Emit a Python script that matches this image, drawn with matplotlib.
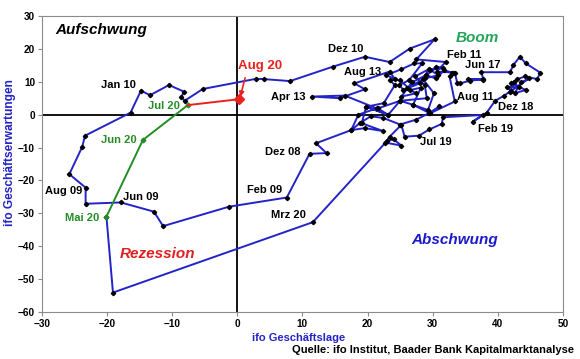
import matplotlib
matplotlib.use("Agg")
import matplotlib.pyplot as plt

plt.rcParams["font.family"] = ["Liberation Sans", "DejaVu Sans"]
plt.rcParams["font.weight"] = "bold"

# ifo Geschäftslage (x) und Geschäftserwartungen (y), monatlich 2008 - Mai 20
lage = [
    31.0, 29.5, 27.5, 25.0, 22.4, 20.5, 18.8, 17.5, 12.1, 13.7, 11.1,          # 2008
    7.6, -1.3, -11.4, -12.8, -17.9, -23.3, -23.3, -25.8, -23.8, -23.4, -16.4,  # 2009
    -14.8, -13.4, -10.5, -8.2, -8.6, -8.1, -5.3, 2.9, 4.1, 8.1, 14.7, 19.6,    # 2010
    23.4, 26.5, 30.3, 27.5, 32.0, 30.6, 33.2, 32.6, 33.4, 29.6,                # 2011
    27.0, 25.0, 21.6, 23.2, 19.8, 19.1, 22.4, 19.6, 17.5, 18.6, 21.4, 16.5,    # 2012
    11.4, 15.7, 19.6, 18.0, 23.4, 24.2, 22.9, 25.2, 27.2, 28.4, 26.4, 24.9,    # 2013
    25.5, 28.0, 29.5, 27.3, 28.8, 29.1, 25.0, 23.2, 19.8, 22.5, 24.2, 23.4,    # 2014
    25.0, 26.6, 28.2, 27.0, 29.3, 30.2, 28.5, 30.5, 31.6, 29.6, 30.9, 28.8,    # 2015
    26.0, 27.5, 25.2, 26.8, 29.0, 30.5, 31.8, 32.9, 33.4, 33.8, 34.2, 35.7,    # 2016
    37.8, 35.5, 37.8, 37.5, 41.9, 42.4, 43.4, 44.3, 46.5, 46.1, 44.2, 43.0,    # 2017
    42.1, 44.3, 42.6, 43.6, 44.8, 41.9, 42.5, 43.2, 41.5, 42.0, 41.0, 39.6,    # 2018
    38.3, 36.2, 37.7, 31.6, 31.4, 29.5, 27.9, 25.7, 25.2, 23.4, 22.7, 25.2,    # 2019
    24.0, 23.0, 11.6, -19.1, -20.1,                                            # 2020
]
erwartungen = [
    2.5, 0.5, -1.5, -3.0, -1.0, -0.5, -2.6, -4.7, -8.7, -11.7, -11.9,
    -25.2, -28.0, -33.9, -29.5, -26.7, -27.1, -22.2, -18.1, -9.7, -6.4, 0.6,
    7.3, 5.9, 9.0, 7.0, 5.3, 4.2, 7.8, 10.9, 10.8, 10.2, 14.6, 17.6,
    16.0, 20.1, 22.9, 16.8, 16.0, 13.1, 12.8, 11.6, 4.0, 0.4,
    3.0, 4.2, 1.9, -0.1, 2.4, -2.6, -5.0, -4.1, -4.7, 0.0, 1.9, 5.8,
    5.5, 5.0, 7.7, 9.5, 13.1, 10.8, 12.0, 13.8, 15.6, 15.6, 10.5, 9.0,
    7.5, 9.5, 13.9, 11.6, 9.0, 5.0, 4.2, 0.0, 2.4, 3.5, 9.0, 10.5,
    10.5, 7.5, 8.2, 3.0, 1.4, 6.5, 10.8, 14.6, 14.1, 13.6, 12.0, 11.0,
    8.0, 6.5, 5.5, 9.8, 12.0, 11.0, 13.5, 12.8, 12.8, 9.5, 9.5, 10.3,
    10.8, 10.8, 10.5, 12.9, 12.9, 15.1, 17.6, 15.6, 12.8, 10.8, 11.6, 10.8,
    9.5, 7.5, 6.5, 9.8, 11.0, 7.0, 10.0, 8.3, 8.5, 7.2, 5.8, 4.2,
    0.6, -2.1, -0.1, -0.8, -2.8, -4.5, -6.4, -6.7, -3.1, -6.7, -8.5, -9.4,
    -7.5, -8.0, -32.7, -54.1, -31.0,
]

# Mai 20 - Jul 20
lage_gruen = [-20.1, -14.5, -7.6]
erw_gruen = [-31.0, -7.7, 2.9]
# Jul 20 - Aug 20
lage_rot = [-7.6, 0.3]
erw_rot = [2.9, 4.7]

x_ticks = list(range(-30, 51, 10))
y_ticks = list(range(-60, 31, 10))

BLUE = "#2323c8"
GREEN = "#268c26"
RED = "#e8231f"

fig = plt.figure(figsize=(5.8, 3.59), dpi=100)
ax = fig.add_axes([0.0724, 0.131, 0.898, 0.8245])

ax.axhline(0, color="black", lw=1.3, zorder=1)
ax.axvline(0, color="black", lw=1.3, zorder=1)

ax.plot(lage, erwartungen, color=BLUE, lw=1.4, marker="D", ms=2.2,
        mfc="black", mec="black", zorder=3)
ax.plot(lage_gruen, erw_gruen, color=GREEN, lw=1.4, marker="D", ms=2.4,
        mfc=GREEN, mec=GREEN, zorder=4)
ax.plot(lage_rot, erw_rot, color=RED, lw=1.4, zorder=4)
ax.plot(lage_rot[-1:], erw_rot[-1:], color=RED, marker="D", ms=5,
        ls="none", zorder=5)

ax.set_xlim(-30, 50)
ax.set_ylim(-60, 30)
ax.set_xticks(x_ticks)
ax.set_yticks(y_ticks)
ax.tick_params(direction="out", length=3, width=0.8, color="#8c8c8c",
               labelsize=7.2, pad=2)
for sp in ax.spines.values():
    sp.set_color("#8c8c8c")
    sp.set_linewidth(0.8)

# Quadranten
quad = dict(fontsize=11, style="italic", weight="bold", va="center")
ax.text(-28.0, 25.7, "Aufschwung", color="black", ha="left", **quad)
ax.text(36.8, 23.3, "Boom", color="#22a55a", ha="center", **quad)
ax.text(-12.2, -42.4, "Rezession", color="#e02020", ha="center", **quad)
ax.text(33.4, -38.1, "Abschwung", color="#1a1acc", ha="center", **quad)

# Monatsbeschriftungen
lbl = dict(fontsize=8, ha="center", va="center")
for txt, x, y in [
    ("Jan 10", -18.3, 9.0), ("Dez 10", 16.7, 20.0), ("Feb 11", 34.8, 18.1),
    ("Aug 13", 19.2, 13.1), ("Jun 17", 37.7, 15.1), ("Apr 13", 7.9, 5.4),
    ("Aug 11", 36.5, 5.3), ("Dez 18", 42.7, 2.2), ("Feb 19", 39.7, -4.4),
    ("Jul 19", 30.5, -8.4), ("Dez 08", 7.0, -11.3), ("Feb 09", 4.2, -22.9),
    ("Jun 09", -14.9, -24.9), ("Aug 09", -26.7, -23.2), ("Mrz 20", 7.8, -30.5),
]:
    ax.text(x, y, txt, color="black", **lbl)
for txt, x, y in [("Jul 20", -11.3, 2.6), ("Jun 20", -18.2, -7.7),
                  ("Mai 20", -23.9, -31.4)]:
    ax.text(x, y, txt, color=GREEN, **lbl)

ax.text(3.5, 14.8, "Aug 20", color=RED, fontsize=9.5, ha="center", va="center")
ax.annotate("", xy=(0.45, 5.4), xytext=(1.2, 11.2),
            arrowprops=dict(arrowstyle="-|>", color=RED, lw=1.2,
                            mutation_scale=7, shrinkA=0, shrinkB=0))

fig.text(0.514, 0.058, "ifo Geschäftslage", color=BLUE, fontsize=8,
         ha="center", va="center")
fig.text(0.018, 0.574, "ifo Geschäftserwartungen", color=BLUE, fontsize=8.6,
         ha="center", va="center", rotation=90)
fig.text(0.99, 0.025, "Quelle: ifo Institut, Baader Bank Kapitalmarktanalyse",
         color="black", fontsize=8, ha="right", va="center")

fig.savefig("out.png", dpi=100)
